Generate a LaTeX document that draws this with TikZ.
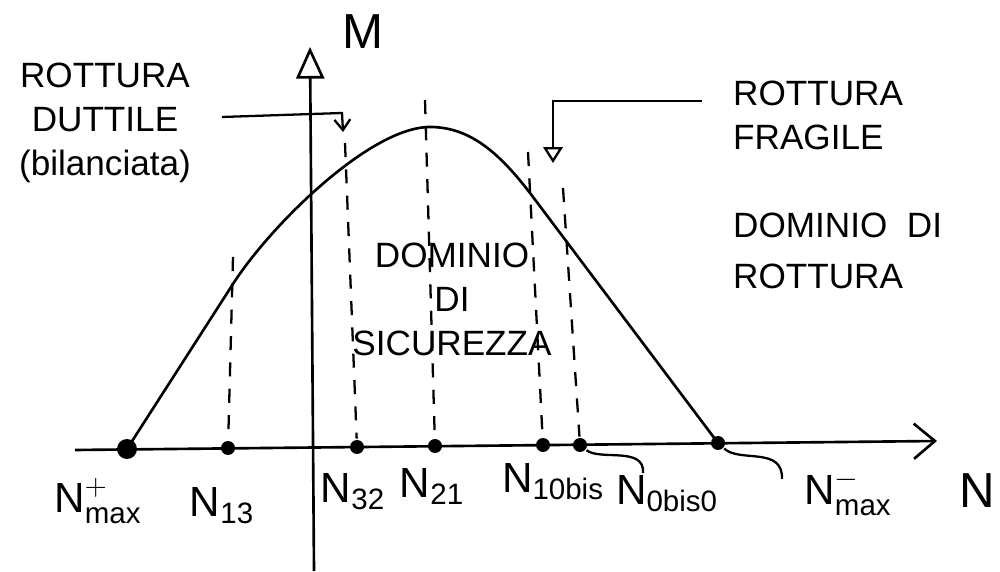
\documentclass[tikz,border=0pt]{standalone}
\usepackage{amsmath}
\usepackage{fontspec}
\setmainfont{Liberation Sans}
\usetikzlibrary{arrows.meta}

\tikzset{
  dot/.style={circle,fill,inner sep=0pt,minimum size=0.28cm},
  bigdot/.style={dot,minimum size=0.4cm},
  guide/.style={line width=1.3pt,dash pattern=on 8pt off 7pt},
  txt/.style={font=\fontsize{20}{25}\selectfont},
  lab/.style={font=\fontsize{24}{28}\selectfont,anchor=base,inner sep=0pt},
  axlab/.style={font=\fontsize{28}{32}\selectfont},
}

\begin{document}
\begin{tikzpicture}[x=0.02cm,y=0.02cm,line width=1.5pt]
\useasboundingbox (0,0) rectangle (1000,571);

% assi
\coordinate (N0) at (75,121);
\coordinate (N1) at (937,130);
\coordinate (M0) at (314,0);
\coordinate (M1) at (310,524);
\draw[-{Straight Barb[length=12pt,width=20pt]}] (N0) -- (N1);
\draw[-{Triangle[open,length=18pt,width=16pt]}] (M0) -- (M1);
\node[axlab] (M) at (363,539) {M};
\node[axlab,anchor=east,inner xsep=2pt] (N) at (1000,80) {N};

% punti sull'asse N
\node[bigdot] (Npm) at (127,122) {};
\node[dot] (N13) at (228,123) {};
\node[dot] (N32) at (357,124) {};
\node[dot] (N21) at (435,125) {};
\node[dot] (N10b) at (543,126) {};
\node[dot] (N0b0) at (580,126) {};
\node[dot] (Nmm) at (718,128) {};

% frontiera del dominio
\draw (Npm.center) -- (233,287) .. controls (270,345) and (370,444) .. (430,444)
  .. controls (470,444) and (500,418) .. (533,374) -- (Nmm.center);

\coordinate (t13) at (233,314);
\coordinate (t32) at (345,428);
\coordinate (t21) at (425,471);
\coordinate (t10b) at (528,419);
\coordinate (t0b0) at (563,383);
\draw[guide] (t13) -- (N13);
\draw[guide] (t32) -- (N32);
\draw[guide] (t21) -- (N21);
\draw[guide] (t10b) -- (N10b);
\draw[guide] (t0b0) -- (N0b0);

% rottura duttile / fragile
\coordinate (d0) at (222,454);
\coordinate (d1) at (342,458);
\coordinate (d2) at (343,439);
\draw[line width=1.3pt,-{Straight Barb[length=6pt,width=9pt]}] (d0) -- (d1) -- (d2);
\coordinate (f0) at (702,470);
\coordinate (f1) at (553,470);
\coordinate (f2) at (553,408);
\draw[line width=1.3pt,-{Triangle[open,length=9pt,width=11pt]}] (f0) -- (f1) -- (f2);

\node[txt,align=center] (rd) at (105,448) {ROTTURA\\DUTTILE\\(bilanciata)};
\node[txt,align=left,anchor=west] (rf) at (726,456) {ROTTURA\\FRAGILE};
\node[txt,align=left,anchor=west] (dr) at (726,320) {DOMINIO\ \ DI\\[4pt]ROTTURA};
\node[txt,align=center] (ds) at (452,272) {DOMINIO\\DI\\SICUREZZA};

% etichette
\node[lab] (lpm) at (98,58) {$\text{N}^{+}_{\text{max}}$};
\node[lab] (l13) at (222,54) {$\text{N}_{\text{13}}$};
\node[lab] (l32) at (353,68) {$\text{N}_{\text{32}}$};
\node[lab] (l21) at (432,73) {$\text{N}_{\text{21}}$};
\node[lab] (l10b) at (553,78) {$\text{N}_{\text{10bis}}$};
\node[lab] (l0b0) at (667,66) {$\text{N}_{\text{0bis0}}$};
\node[lab] (lmm) at (848,66) {$\text{N}^{-}_{\text{max}}$};

\coordinate (e0b0) at (643,98);
\coordinate (emm) at (782,92);
\draw[line width=1.3pt] (N0b0) .. controls (600,110) and (645,125) .. (e0b0);
\draw[line width=1.3pt] (Nmm) .. controls (740,108) and (783,125) .. (emm);
\end{tikzpicture}
\end{document}
